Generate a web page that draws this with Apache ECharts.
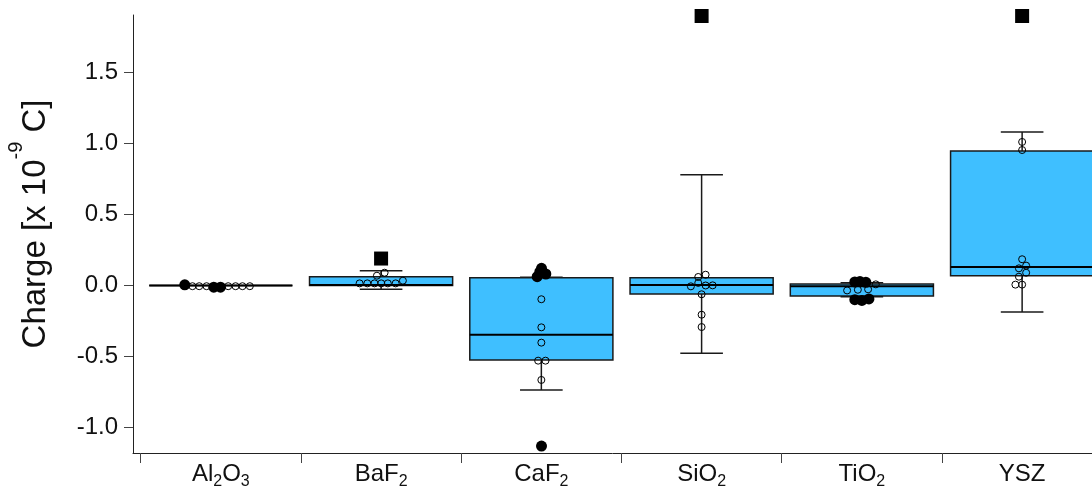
<!DOCTYPE html>
<html>
<head>
<meta charset="utf-8">
<script src="https://cdn.jsdelivr.net/npm/echarts@6/dist/echarts.min.js"></script>
<style>html,body{margin:0;padding:0;background:#fff}#c{width:1092px;height:487px}</style>
</head>
<body>
<div id="c"></div>
<script>
// ---- data ----
const categories = ['Al2O3', 'BaF2', 'CaF2', 'SiO2', 'TiO2', 'YSZ'];
const yTicks = [-1.0, -0.5, 0.0, 0.5, 1.0, 1.5];
const whiskerLow  = [0, -0.027, -0.737, -0.478, -0.079, -0.187];
const q1          = [0,  0.000, -0.525, -0.060, -0.074,  0.069];
const median      = [0,  0.003, -0.347,  0.004, -0.005,  0.130];
const q3          = [0,  0.062,  0.055,  0.055,  0.010,  0.948];
const whiskerHigh = [0,  0.104,  0.058,  0.781,  0.020,  1.082];

// individual measurements (open circles), horizontal jitter in category units
const openOffsets = [
  [-0.177, -0.135, -0.089, 0.046, 0.092, 0.135, 0.181],
  [-0.134, -0.086, -0.041, 0.001, 0.042, 0.091, 0.136, -0.026, 0.022],
  [0, 0, 0, -0.02, 0.026, 0],
  [-0.021, 0.025, -0.021, -0.067, 0.025, 0.069, 0, 0, 0],
  [-0.092, -0.025, 0.039, 0.087],
  [0, 0, 0, 0.025, -0.02, 0.025, -0.02, -0.042, 0]
];
const openValues = [
  [-0.005, -0.005, -0.005, -0.005, -0.005, -0.005, -0.005],
  [0.015, 0.015, 0.015, 0.015, 0.015, 0.015, 0.034, 0.069, 0.09],
  [-0.097, -0.295, -0.403, -0.53, -0.53, -0.666],
  [0.06, 0.076, 0.018, -0.006, 0.0, 0.001, -0.062, -0.206, -0.293],
  [-0.035, -0.03, -0.027, 0.008],
  [1.012, 0.955, 0.185, 0.14, 0.121, 0.09, 0.062, 0.006, 0.006]
];
// outliers (filled circles)
const filledOffsets = [
  [-0.225, -0.044, -0.002],
  [],
  [0.001, -0.026, 0.028, -0.01, 0.001],
  [],
  [-0.044, -0.012, 0.025, -0.044, 0, 0.044],
  []
];
const filledValues = [
  [0.005, -0.012, -0.012],
  [],
  [0.121, 0.062, 0.081, 0.095, -1.132],
  [],
  [0.025, 0.028, 0.022, -0.1, -0.105, -0.095],
  []
];
// far outliers (filled squares)
const farOffsets = [[], [0], [], [0], [], [0]];
const farValues  = [[], [0.19], [], [1.90], [], [1.90]];

// ---- build ----
function pts(offs, vals) {
  const out = [];
  vals.forEach((arr, i) => arr.forEach((v, j) => out.push([i + offs[i][j], v])));
  return out;
}
const boxData = categories.map((c, i) => [i, whiskerLow[i], q1[i], median[i], q3[i], whiskerHigh[i]]);

function labelFmt(v) {
  const name = categories[Math.round(v)];
  if (name === undefined) return '';
  return name.replace(/(\d+)/g, '{sub|$1}').replace(/(^|})([^{]+)(?={|$)/g, '$1{m|$2}');
}

const FONT = 'Liberation Sans, Arial, Helvetica, sans-serif';
const LINE = '#1a1a1a';

const chart = echarts.init(document.getElementById('c'), null, {renderer: 'canvas'});
chart.setOption({
  animation: false,
  backgroundColor: '#fff',
  grid: {left: 133, top: 15, right: 0, bottom: 34, containLabel: false, outerBoundsMode: 'none'},
  xAxis: {
    type: 'value', min: -0.548, max: 5.436,
    axisLine: {show: true, onZero: false, lineStyle: {color: '#222', width: 1}},
    splitLine: {show: false},
    axisTick: {show: true, customValues: [-0.5, 0.5, 1.5, 2.5, 3.5, 4.5], length: 10, lineStyle: {color: '#444', width: 1}},
    axisLabel: {
      customValues: [0, 1, 2, 3, 4, 5], margin: 9, formatter: labelFmt,
      rich: {
        m: {fontFamily: FONT, fontSize: 24, color: '#111', lineHeight: 26, verticalAlign: 'top'},
        sub: {fontFamily: FONT, fontSize: 16, color: '#111', lineHeight: 16, verticalAlign: 'top', padding: [12, 0, 0, 0]}
      }
    }
  },
  yAxis: {
    type: 'value', min: -1.181, max: 1.907,
    axisLine: {show: true, onZero: false, lineStyle: {color: '#222', width: 1}},
    splitLine: {show: false},
    axisTick: {show: true, customValues: yTicks, length: 9, lineStyle: {color: '#444', width: 1}},
    axisLabel: {customValues: yTicks, margin: 15, formatter: v => v.toFixed(1),
      fontFamily: FONT, fontSize: 24, color: '#111'}
  },
  graphic: [{
    type: 'text', x: 29, y: 224, rotation: Math.PI / 2,
    style: {
      text: '{m|Charge [x 10}{sup|-9}{m| C]}',
      align: 'center', verticalAlign: 'middle', textAlign: 'center', textVerticalAlign: 'middle',
      rich: {
        m: {fontFamily: FONT, fontSize: 33, fill: '#111', color: '#111', lineHeight: 46, verticalAlign: 'bottom'},
        sup: {fontFamily: FONT, fontSize: 20, fill: '#111', color: '#111', lineHeight: 20, verticalAlign: 'top'}
      }
    }
  }],
  series: [
    {
      type: 'custom', data: boxData, encode: {x: 0, y: [1, 2, 3, 4, 5]}, z: 2,
      renderItem: function (params, api) {
        const i = api.value(0);
        const wl = api.value(1), a = api.value(2), md = api.value(3), b = api.value(4), wh = api.value(5);
        const hb = 0.4465, hc = 0.133;
        const tl = api.coord([i - hb, b]);
        const br = api.coord([i + hb, a]);
        const cx = api.coord([i, 0])[0];
        const yWl = api.coord([i, wl])[1], yWh = api.coord([i, wh])[1], yMd = api.coord([i, md])[1];
        const cL = api.coord([i - hc, 0])[0], cR = api.coord([i + hc, 0])[0];
        const ls = {stroke: LINE, lineWidth: 1.5};
        const ch = [];
        if (wh > b) {
          ch.push({type: 'line', shape: {x1: cx, y1: yWh, x2: cx, y2: tl[1]}, style: ls});
          ch.push({type: 'line', shape: {x1: cL, y1: yWh, x2: cR, y2: yWh}, style: ls});
        }
        if (wl < a) {
          ch.push({type: 'line', shape: {x1: cx, y1: br[1], x2: cx, y2: yWl}, style: ls});
          ch.push({type: 'line', shape: {x1: cL, y1: yWl, x2: cR, y2: yWl}, style: ls});
        }
        ch.push({type: 'rect', shape: {x: tl[0], y: tl[1], width: br[0] - tl[0], height: br[1] - tl[1]},
          style: {fill: '#3fbfff', stroke: LINE, lineWidth: 1.5}});
        ch.push({type: 'line', shape: {x1: tl[0], y1: yMd, x2: br[0], y2: yMd}, style: {stroke: '#000', lineWidth: 2}});
        return {type: 'group', children: ch};
      }
    },
    {
      type: 'scatter', data: pts(openOffsets, openValues), symbol: 'circle', symbolSize: 7, z: 3, clip: false,
      itemStyle: {color: 'rgba(0,0,0,0)', borderColor: '#000', borderWidth: 1, opacity: 1}
    },
    {
      type: 'scatter', data: pts(filledOffsets, filledValues), symbol: 'circle', symbolSize: 11, z: 4, clip: false,
      itemStyle: {color: '#000', opacity: 1}
    },
    {
      type: 'scatter', data: pts(farOffsets, farValues), symbol: 'rect', symbolSize: 14, z: 4, clip: false,
      itemStyle: {color: '#000', opacity: 1}
    }
  ]
});
</script>
</body>
</html>
